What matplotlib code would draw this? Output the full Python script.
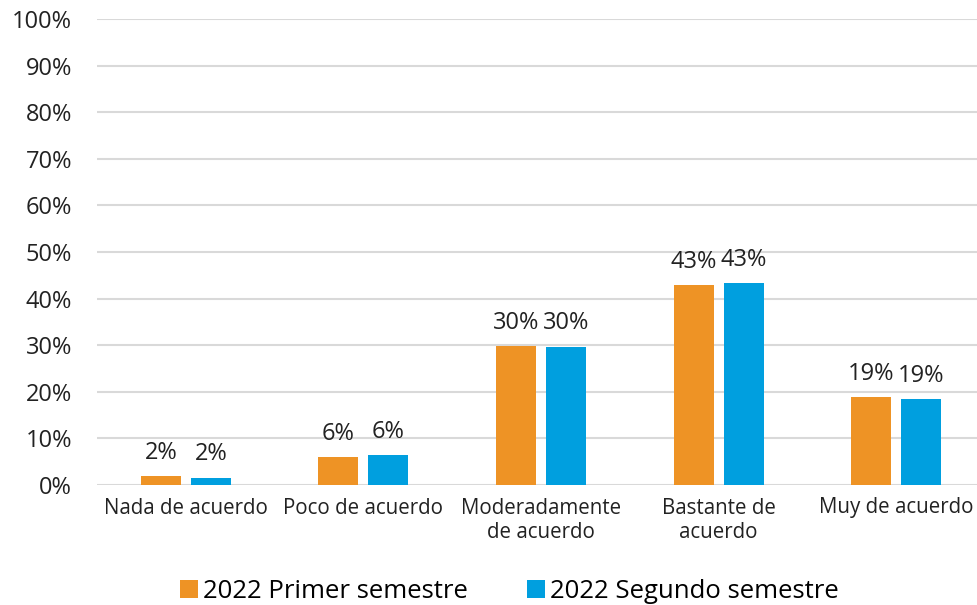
import matplotlib.pyplot as plt
import numpy as np
from matplotlib.ticker import PercentFormatter

plt.rcParams['font.family'] = ['Open Sans', 'DejaVu Sans']

categories = ['Nada de acuerdo', 'Poco de acuerdo', 'Moderadamente\nde acuerdo',
              'Bastante de\nacuerdo', 'Muy de acuerdo']
primer = [0.019, 0.060, 0.299, 0.429, 0.189]
segundo = [0.016, 0.065, 0.297, 0.434, 0.184]
labels_primer = ['2%', '6%', '30%', '43%', '19%']
labels_segundo = ['2%', '6%', '30%', '43%', '19%']
series_names = ['2022 Primer semestre', '2022 Segundo semestre']
colors = ['#EE9325', '#009FDF']

fig = plt.figure(figsize=(9.77, 6.05), dpi=100)
ax = fig.add_axes([97 / 977, 1 - 485 / 605, 888 / 977, (485 - 19) / 605])

x = np.arange(len(categories))
w = 0.225
off = 0.141
b1 = ax.bar(x - off, primer, w, color=colors[0], label=series_names[0], zorder=3)
b2 = ax.bar(x + off, segundo, w, color=colors[1], label=series_names[1], zorder=3)

for bars, labs in [(b1, labels_primer), (b2, labels_segundo)]:
    for rect, lab in zip(bars, labs):
        ax.annotate(lab, (rect.get_x() + rect.get_width() / 2, rect.get_height()),
                    xytext=(0, 8), textcoords='offset points',
                    ha='center', va='bottom', fontsize=17, color='#222222')

ax.set_xlim(-0.5, len(categories) - 0.5)
ax.set_ylim(0, 1)
ax.set_yticks(np.arange(0, 1.01, 0.1))
ax.yaxis.set_major_formatter(PercentFormatter(1.0, decimals=0))
ax.grid(axis='y', color='#d9d9d9', linewidth=1.5, zorder=0)
ax.set_axisbelow(True)
for s in ax.spines.values():
    s.set_visible(False)
ax.tick_params(axis='y', length=0, labelsize=17, pad=18, labelcolor='#222222')
ax.tick_params(axis='x', length=0, labelsize=14.8, pad=9, labelcolor='#222222')
ax.set_xticks(x)
ax.set_xticklabels(categories, linespacing=1.2)

fig.legend(loc='center', bbox_to_anchor=(0.521, 1 - 591 / 605), ncol=2, frameon=False,
           fontsize=18.5, handlelength=0.7, handleheight=0.7, handletextpad=0.2,
           columnspacing=2.3)

fig.savefig('out.png', dpi=100)
